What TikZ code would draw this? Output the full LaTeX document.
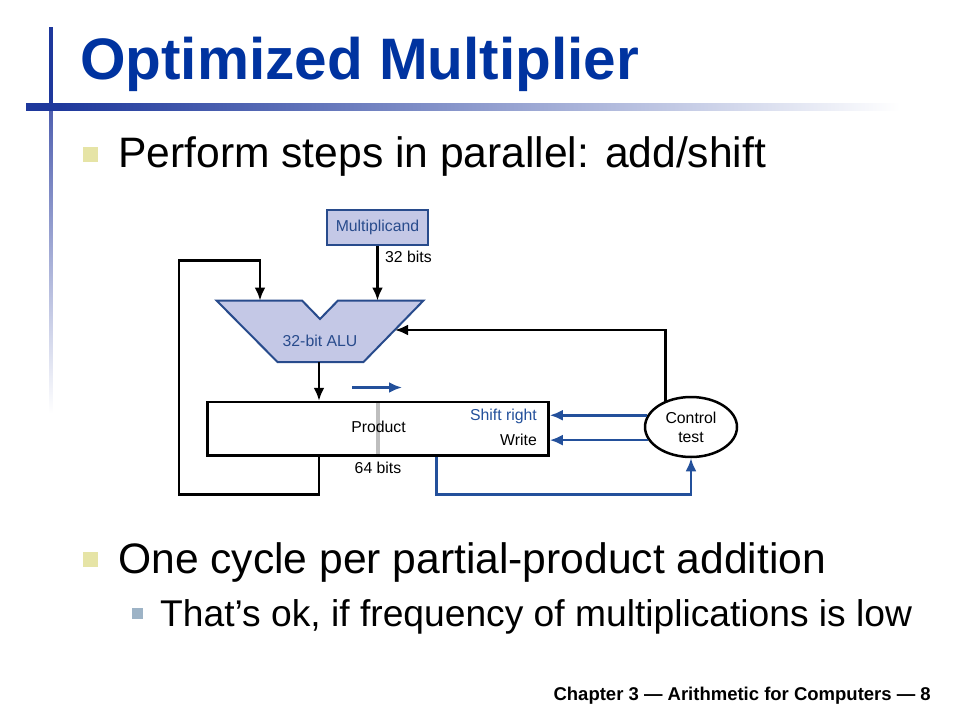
\documentclass[tikz,border=0pt]{standalone}
\usepackage{fontspec}
\setmainfont{Liberation Sans}
\usetikzlibrary{arrows.meta,shapes.geometric,calc}
\definecolor{titleblue}{RGB}{0,51,160}
\definecolor{barblue}{RGB}{30,56,156}
\definecolor{vfade}{RGB}{80,96,176}
\definecolor{lineblue}{RGB}{35,80,155}
\definecolor{boxblue}{RGB}{40,75,140}
\definecolor{boxfill}{RGB}{196,200,230}
\definecolor{bullyellow}{RGB}{230,228,166}
\definecolor{bullblue}{RGB}{157,179,198}
\definecolor{prodgray}{RGB}{190,190,190}
\begin{document}
\begin{tikzpicture}[x=1pt,y=-1pt,
  blk/.style={line width=2.5pt, draw=black},
  blu/.style={line width=2.5pt, draw=lineblue},
  tipk/.style={-{Latex[length=13pt,width=11pt]}},
  tipb/.style={-{Latex[length=13pt,width=11pt]}},
  lbl/.style={font=\fontsize{15.8}{19}\selectfont, inner sep=0},
  bigtxt/.style={anchor=base west, inner sep=0, font=\fontsize{42.6}{43}\selectfont},
  subtxt/.style={anchor=base west, inner sep=0, font=\fontsize{37.2}{37}\selectfont}]
\useasboundingbox (0,0) rectangle (960,720);
\fill[white] (0,0) rectangle (960,720);
% title decoration
\fill[barblue] (49,27) rectangle (52.5,103);
\shade[top color=vfade, bottom color=white] (49,110.5) rectangle (52.5,413);
\fill[barblue] (26,103) rectangle (60,110.5);
\shade[left color=barblue, right color=white] (60,103) rectangle (900,110.5);
\node[anchor=base west, inner sep=0, font=\bfseries\fontsize{58.5}{58}\selectfont, text=titleblue] (title) at (80,79) {Optimized Multiplier};
% bullets
\fill[bullyellow] (83,147) rectangle (98,162);
\node[bigtxt] (t1) at (118,167) {Perform steps in parallel: add/shift};
\fill[bullyellow] (83,552) rectangle (98,567);
\node[bigtxt] (t2) at (118,573) {One cycle per partial-product addition};
\fill[bullblue] (132,608) rectangle (143,619);
\node[subtxt] (t3) at (160,626) {That’s ok, if frequency of multiplications is low};
\node[anchor=base east, inner sep=0, font=\bfseries\fontsize{18.5}{18.5}\selectfont] (ft) at (931,700) {Chapter 3 — Arithmetic for Computers — 8};
% diagram
\node[draw=boxblue, fill=boxfill, line width=2pt, minimum width=101pt, minimum height=35pt, lbl, text=boxblue] (mult) at (377.5,227) {Multiplicand};
\filldraw[fill=boxfill, draw=boxblue, line width=2pt] (216.5,300.5) -- (302,300.5) -- (320,319) -- (338,300.5) -- (423.5,300.5) -- (363.5,362) -- (277.5,362) -- cycle;
\node[lbl, text=boxblue] (alu) at (320,341) {32-bit ALU};
\coordinate (aluL) at (260,300.5);
\coordinate (aluR) at (377.5,300.5);
\coordinate (aluO) at (319,362);
\coordinate (aluE) at (395,330);
\coordinate (lp) at (179,260.5);
\coordinate (blx) at (436.7,0);
\fill[prodgray] (376,402) rectangle (380,455.5);
\node[draw=black, line width=2.5pt, minimum width=341pt, minimum height=53.5pt, inner sep=0] (prod) at (378,428.75) {};
\node[lbl] (prodt) at (378.5,427) {Product};
\node[lbl, anchor=east, text=lineblue] (shr) at (537,416) {Shift right};
\node[lbl, anchor=east] (wr) at (537,440) {Write};
\node[lbl] (b64) at (378,468) {64 bits};
\node[lbl, anchor=west] (b32) at (385,257) {32 bits};
\coordinate (sa) at (352,387.5);
\coordinate (sb) at (402,387.5);
\node[ellipse, draw=black, line width=2.5pt, fill=white, minimum width=92pt, minimum height=60pt, lbl, align=center] (ctl) at (691,427) {Control\\test};
% connectors
\draw[blu, tipb] (sa) -- (sb);
\draw[blk, tipk] (mult.south) -- (aluR);
\draw[blk, tipk] (aluO) -- (aluO |- prod.north);
\draw[blk, tipk] (aluO |- prod.south) -- ++(0,37.5) -| (lp) -| (aluL);
\draw[blk, tipk] (ctl.134.8) |- (aluE);
\draw[blu, tipb] (ctl.165.6) -- (ctl.165.6 -| prod.east);
\draw[blu, tipb] (ctl.197.4) -- (ctl.197.4 -| prod.east);
\draw[blu, tipb] (prod.south -| blx) -- ++(0,37.5) -| (ctl.south);
\end{tikzpicture}
\end{document}
